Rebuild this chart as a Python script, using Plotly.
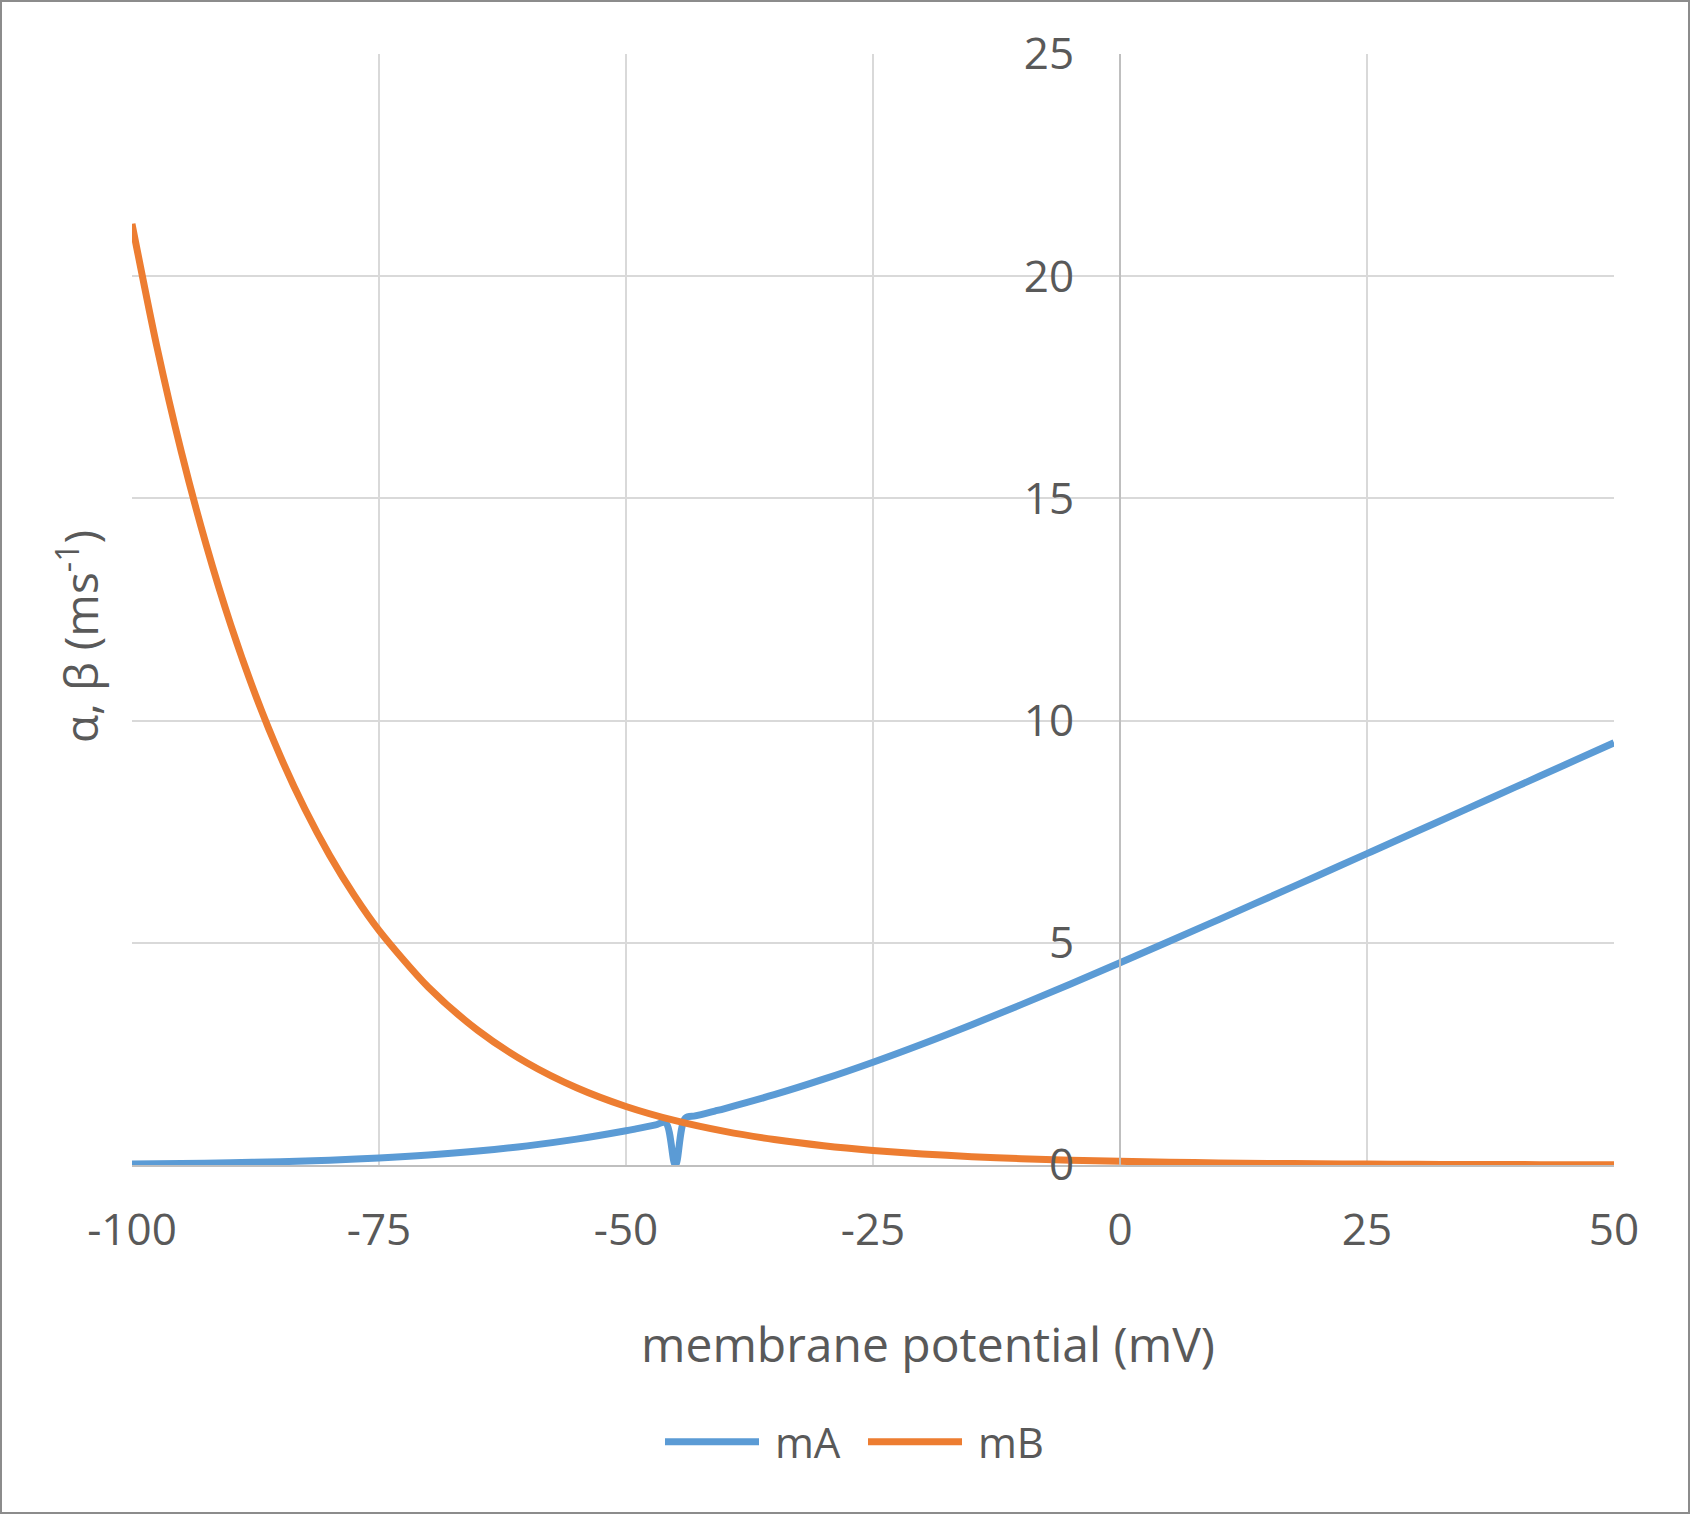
import plotly.graph_objects as go

# membrane potential (mV)
v_mA = [-100, -95, -90, -85, -80, -75, -70, -65, -60, -55, -50, -49, -48, -47, -46, -45,
        -44, -43, -42, -41, -40, -35, -30, -25, -20, -15, -10, -5, 0, 5, 10, 15, 20, 25,
        30, 35, 40, 45, 50]
mA = [0.0226, 0.0339, 0.0506, 0.0746, 0.109, 0.1572, 0.2236, 0.313, 0.4308, 0.582, 0.7708,
      0.8133, 0.8575, 0.9033, 0.9508, 0.0, 1.0508, 1.1033, 1.1575, 1.2133, 1.2707, 1.582,
      1.9308, 2.313, 2.7236, 3.1572, 3.609, 4.0746, 4.5506, 5.0339, 5.5226, 6.0149, 6.5098,
      7.0064, 7.5041, 8.0027, 8.5017, 9.0011, 9.5007]

v_mB = [-100, -97.5, -95, -92.5, -90, -87.5, -85, -82.5, -80, -77.5, -75, -70, -65, -60, -55,
        -50, -45, -40, -35, -30, -25, -20, -15, -10, -5, 0, 5, 10, 15, 20, 25, 30, 35, 40,
        45, 50]
mB = [21.178, 18.432, 16.042, 13.962, 12.151, 10.576, 9.204, 8.011, 6.972, 6.068, 5.281, 4.0,
      3.03, 2.295, 1.738, 1.317, 0.997, 0.7555, 0.5723, 0.4335, 0.3283, 0.2487, 0.1884,
      0.1427, 0.1081, 0.0819, 0.062, 0.047, 0.0356, 0.027, 0.0204, 0.0155, 0.0117, 0.0089,
      0.0067, 0.0051]

x_ticks = [-100, -75, -50, -25, 0, 25, 50]
x_labels = ["-100", "-75", "-50", "-25", "0", "25", "50"]
y_ticks = [0, 5, 10, 15, 20, 25]
y_labels = ["0", "5", "10", "15", "20", "25"]

FONT = "Open Sans"
TXT = "#595959"

fig = go.Figure()
fig.add_trace(go.Scatter(x=v_mA, y=mA, name=" mA", mode="lines",
                         line=dict(color="#5B9BD5", width=7, shape="spline", smoothing=1.0)))
fig.add_trace(go.Scatter(x=v_mB, y=mB, name=" mB", mode="lines",
                         line=dict(color="#ED7D31", width=7, shape="spline", smoothing=0.8)))

L, R, T, B = 132, 77, 54, 350
W, H = 1691, 1515
pw, ph = W - L - R, H - T - B

fig.update_layout(
    width=W, height=H,
    margin=dict(l=L, r=R, t=T, b=B),
    paper_bgcolor="white", plot_bgcolor="white",
    font=dict(family=FONT, color=TXT, size=44),
    showlegend=True,
    legend=dict(orientation="h", x=(863 - L) / pw, xanchor="center",
                y=(H - B - 1442) / ph, yanchor="middle",
                font=dict(size=42, color=TXT), itemwidth=94,
                entrywidth=94, entrywidthmode="pixels", tracegroupgap=0),
    xaxis=dict(range=[-100, 50], tickvals=x_ticks, ticktext=x_labels, showgrid=True,
               gridcolor="#D9D9D9", gridwidth=2, showline=True, linecolor="#BFBFBF",
               linewidth=2, zeroline=False, ticks="outside", ticklen=25,
               tickcolor="rgba(0,0,0,0)", tickfont=dict(size=44, color=TXT)),
    yaxis=dict(range=[0, 25], tickvals=y_ticks, ticktext=y_labels, showgrid=True,
               gridcolor="#D9D9D9", gridwidth=2, showline=True, linecolor="#BFBFBF",
               linewidth=2, zeroline=False, anchor="free", position=2 / 3, side="left",
               ticks="outside", ticklen=36, tickcolor="rgba(0,0,0,0)",
               tickfont=dict(size=44, color=TXT)),
)

# axis titles
fig.add_annotation(text="α, β (ms<sup>-1</sup>)", xref="paper", yref="paper",
                   x=(78 - L) / pw, y=(H - B - 637) / ph, textangle=-90,
                   showarrow=False, xanchor="center", yanchor="middle",
                   font=dict(size=46, color=TXT, family=FONT))
fig.add_annotation(text="membrane potential (mV)", xref="paper", yref="paper",
                   x=(928 - L) / pw, y=(H - B - 1343) / ph, showarrow=False,
                   xanchor="center", yanchor="middle",
                   font=dict(size=48, color=TXT, family=FONT))

# chart area border
fig.add_shape(type="rect", xref="paper", yref="paper",
              x0=(1 - L) / pw, x1=(1689 - L) / pw,
              y0=(H - B - 1513) / ph, y1=(H - B - 1) / ph,
              line=dict(color="#8C8C8C", width=2), fillcolor="rgba(0,0,0,0)", layer="below")

fig.write_html("out.html")
